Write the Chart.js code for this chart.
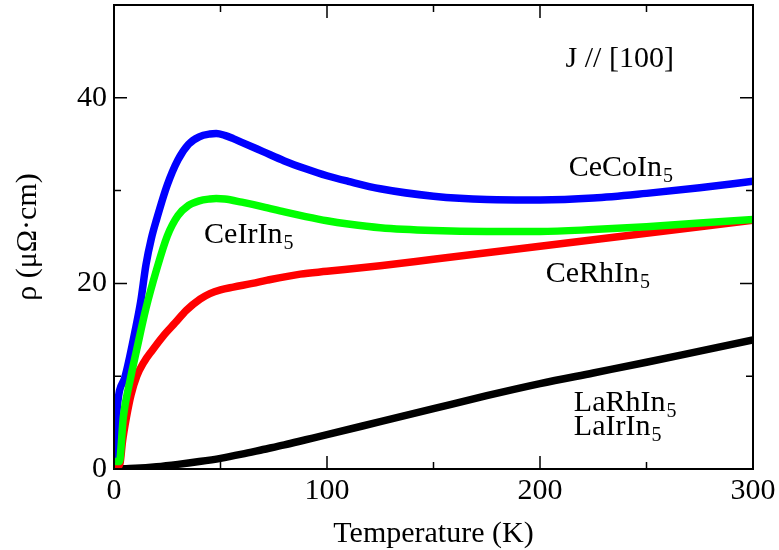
<!DOCTYPE html>
<html>
<head>
<meta charset="utf-8">
<script src="https://cdn.jsdelivr.net/npm/chart.js@4.4.1/dist/chart.umd.min.js"></script>
<style>
  html, body { margin: 0; padding: 0; background: #fff; }
  #c { display: block; }
</style>
</head>
<body>
<canvas id="c" width="779" height="550"></canvas>
<script>
// ---- Data ----
const xTicks = [0, 100, 200, 300];
const xMinorTicks = [50, 150, 250];
const yTicks = [0, 20, 40];
const yMinorTicks = [10, 30];

const ceCoT   = [0.5, 1.2, 5, 10, 12.5, 15, 17.5, 20, 25, 30, 35, 40, 45, 48, 52, 56, 60, 70, 80, 90, 100, 110, 125, 150, 175, 200, 225, 250, 275, 300];
const ceCoRho = [0.6, 5.7, 9.8, 15.0, 18.0, 22.0, 24.8, 26.9, 30.6, 33.3, 35.0, 35.8, 36.1, 36.15, 35.95, 35.6, 35.2, 34.2, 33.2, 32.35, 31.6, 31.0, 30.2, 29.4, 29.05, 29.0, 29.2, 29.7, 30.3, 31.0];

const ceIrT   = [0.5, 2.5, 4.4, 7.5, 10.7, 15, 20, 25, 30, 35, 40, 45, 48, 52, 60, 70, 80, 90, 100, 110, 125, 150, 175, 200, 225, 250, 275, 300];
const ceIrRho = [0.8, 0.8, 5.65, 9.5, 12.9, 17.3, 21.5, 25.1, 27.3, 28.4, 28.9, 29.1, 29.15, 29.1, 28.75, 28.25, 27.7, 27.2, 26.75, 26.4, 26.0, 25.7, 25.6, 25.6, 25.8, 26.1, 26.5, 26.9];

const ceRhT   = [0.5, 2.8, 4, 5.9, 8, 10.7, 14, 18, 23, 28.7, 34, 40.4, 45, 50, 56, 65, 72, 87.5, 100, 125, 150, 175, 200, 225, 250, 275, 300];
const ceRhRho = [0.0, 0.6, 3.0, 5.65, 8.0, 10.0, 11.5, 12.8, 14.3, 15.75, 17.1, 18.3, 18.9, 19.3, 19.6, 20.0, 20.35, 21.0, 21.3, 21.9, 22.6, 23.3, 24.0, 24.7, 25.4, 26.1, 26.8];

const laT   = [0.5, 10, 20, 30, 40, 50, 60, 70, 80, 90, 100, 125, 150, 175, 200, 225, 250, 275, 300];
const laRho = [0.0, 0.08, 0.25, 0.5, 0.8, 1.15, 1.6, 2.1, 2.6, 3.15, 3.7, 5.1, 6.5, 7.9, 9.2, 10.35, 11.5, 12.7, 13.9];

const seriesNames = ['CeCoIn5', 'CeIrIn5', 'CeRhIn5', 'LaRhIn5'];
const xTitle = 'Temperature (K)';
const yTitle = 'ρ (μΩ·cm)';

// annotation texts: [main, subscript, T (left), rho (baseline)]
const labels = [
  ['J // [100]', '', 212, 43.3],
  ['CeCoIn', '5', 213.5, 31.6],
  ['CeIrIn', '5', 42.3, 24.4],
  ['CeRhIn', '5', 202.7, 20.2],
  ['LaRhIn', '5', 215.9, 6.3],
  ['LaIrIn', '5', 215.9, 3.7]
];

const FONT = '"Liberation Serif", "Times New Roman", serif';
Chart.defaults.font.family = FONT;
Chart.defaults.color = '#000';

function pts(xs, ys) { return xs.map((x, i) => ({x: x, y: ys[i]})); }

const framePlugin = {
  id: 'frame',
  afterDatasetsDraw(chart) {
    const {ctx, chartArea: a, scales: {x, y}} = chart;
    ctx.save();
    ctx.strokeStyle = '#000';
    ctx.lineWidth = 2;
    ctx.strokeRect(a.left, a.top, a.right - a.left, a.bottom - a.top);
    ctx.lineWidth = 1.5;
    const tick = (vals, len) => {
      vals.forEach(v => {
        const px = x.getPixelForValue(v);
        if (px <= a.left + 1 || px >= a.right - 1) return;
        ctx.beginPath();
        ctx.moveTo(px, a.bottom); ctx.lineTo(px, a.bottom - len);
        ctx.moveTo(px, a.top); ctx.lineTo(px, a.top + len);
        ctx.stroke();
      });
    };
    const ytick = (vals, len) => {
      vals.forEach(v => {
        const py = y.getPixelForValue(v);
        if (py >= a.bottom - 1 || py <= a.top + 1) return;
        ctx.beginPath();
        ctx.moveTo(a.left, py); ctx.lineTo(a.left + len, py);
        ctx.moveTo(a.right, py); ctx.lineTo(a.right - len, py);
        ctx.stroke();
      });
    };
    tick(xTicks, 13); tick(xMinorTicks, 7);
    ytick(yTicks, 13); ytick(yMinorTicks, 7);

    // annotations
    ctx.fillStyle = '#000';
    ctx.textBaseline = 'alphabetic';
    ctx.textAlign = 'left';
    labels.forEach(([main, sub, t, r]) => {
      const px = x.getPixelForValue(t);
      const py = y.getPixelForValue(r);
      ctx.font = '30px ' + FONT;
      ctx.fillText(main, px, py);
      if (sub) {
        const w = ctx.measureText(main).width;
        ctx.font = '20px ' + FONT;
        ctx.fillText(sub, px + w + 1, py + 6);
      }
    });
    ctx.restore();
  }
};

new Chart(document.getElementById('c'), {
  type: 'line',
  data: {
    datasets: [
      {label: seriesNames[0], data: pts(ceCoT, ceCoRho), borderColor: '#0000ff', order: 2},
      {label: seriesNames[1], data: pts(ceIrT, ceIrRho), borderColor: '#00ff00', order: 0},
      {label: seriesNames[2], data: pts(ceRhT, ceRhRho), borderColor: '#ff0000', order: 1},
      {label: seriesNames[3], data: pts(laT, laRho), borderColor: '#000000', order: 3}
    ]
  },
  options: {
    responsive: false,
    animation: false,
    devicePixelRatio: 1,
    layout: {padding: {top: 5, right: 26, left: 0, bottom: 0}},
    elements: {
      line: {borderWidth: 7.5, cubicInterpolationMode: 'monotone', fill: false, borderCapStyle: 'butt', borderJoinStyle: 'round'},
      point: {radius: 0, hoverRadius: 0}
    },
    plugins: {legend: {display: false}, tooltip: {enabled: false}},
    scales: {
      x: {
        type: 'linear', min: 0, max: 300,
        afterBuildTicks(s) { s.ticks = xTicks.map(v => ({value: v})); },
        afterFit(s) { s.height = 81; s.paddingLeft = 0; s.paddingRight = 0; },
        grid: {display: false, drawTicks: false},
        border: {display: false},
        ticks: {font: {size: 30}, padding: 4, color: '#000', maxRotation: 0, autoSkip: false},
        title: {display: true, text: xTitle, font: {size: 30}, color: '#000', padding: {top: 0, bottom: -2}}
      },
      y: {
        type: 'linear', min: 0, max: 50,
        afterBuildTicks(s) { s.ticks = yTicks.map(v => ({value: v})); },
        afterFit(s) { s.width = 114; s.paddingTop = 0; s.paddingBottom = 0; },
        grid: {display: false, drawTicks: false},
        border: {display: false},
        ticks: {font: {size: 30}, padding: 7, color: '#000'},
        title: {display: true, text: yTitle, font: {size: 30}, color: '#000', padding: {top: 10, bottom: 0}}
      }
    }
  },
  plugins: [framePlugin]
});
</script>
</body>
</html>
